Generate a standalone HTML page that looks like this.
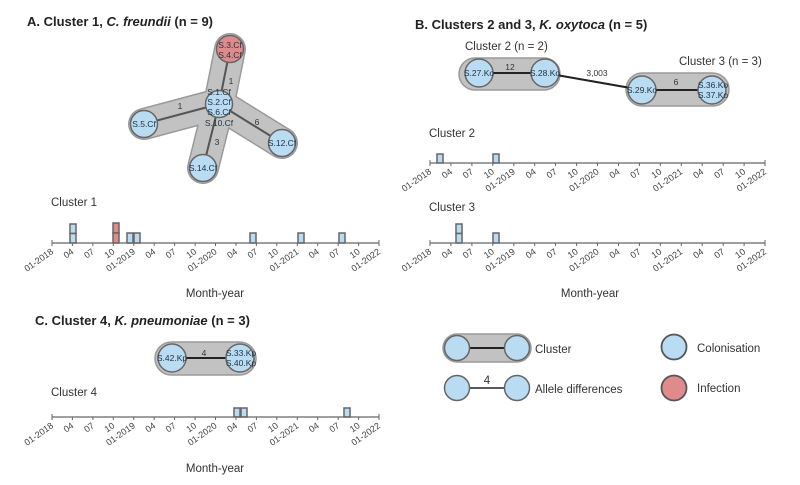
<!DOCTYPE html>
<html><head><meta charset="utf-8"><style>
body{margin:0;background:#fff}
svg{display:block;font-family:"Liberation Sans",sans-serif}
.t{font-size:9px;fill:#444}
.h{font-size:13px;font-weight:bold;fill:#222}
.l{font-size:11.5px;fill:#333}
.n{font-size:8.5px;fill:#234}
.e{font-size:8.5px;fill:#333}
.b{fill:#b9dcf3;stroke:#666;stroke-width:1.5}
.r{fill:#e08b8b;stroke:#666;stroke-width:1.5}
</style></head><body>
<svg width="800" height="485" viewBox="0 0 800 485">
<defs>
<g id="axA">
<line x1="52" y1="0" x2="379" y2="0" stroke="#666" stroke-width="1.2"/>
<g stroke="#666" stroke-width="1">
<line x1="52" y1="-3" x2="52" y2="3"/><line x1="72.4" y1="0" x2="72.4" y2="3"/><line x1="92.9" y1="0" x2="92.9" y2="3"/><line x1="113.3" y1="0" x2="113.3" y2="3"/><line x1="133.8" y1="0" x2="133.8" y2="3"/><line x1="154.2" y1="0" x2="154.2" y2="3"/><line x1="174.6" y1="0" x2="174.6" y2="3"/><line x1="195.1" y1="0" x2="195.1" y2="3"/><line x1="215.5" y1="0" x2="215.5" y2="3"/><line x1="236" y1="0" x2="236" y2="3"/><line x1="256.4" y1="0" x2="256.4" y2="3"/><line x1="276.8" y1="0" x2="276.8" y2="3"/><line x1="297.3" y1="0" x2="297.3" y2="3"/><line x1="317.7" y1="0" x2="317.7" y2="3"/><line x1="338.2" y1="0" x2="338.2" y2="3"/><line x1="358.6" y1="0" x2="358.6" y2="3"/><line x1="379" y1="-3" x2="379" y2="3"/>
</g>
<g class="t" text-anchor="end">
<text transform="translate(54,10) rotate(-35)">01-2018</text>
<text transform="translate(74.4,10) rotate(-35)">04</text>
<text transform="translate(94.9,10) rotate(-35)">07</text>
<text transform="translate(115.3,10) rotate(-35)">10</text>
<text transform="translate(135.8,10) rotate(-35)">01-2019</text>
<text transform="translate(156.2,10) rotate(-35)">04</text>
<text transform="translate(176.6,10) rotate(-35)">07</text>
<text transform="translate(197.1,10) rotate(-35)">10</text>
<text transform="translate(217.5,10) rotate(-35)">01-2020</text>
<text transform="translate(238,10) rotate(-35)">04</text>
<text transform="translate(258.4,10) rotate(-35)">07</text>
<text transform="translate(278.8,10) rotate(-35)">10</text>
<text transform="translate(299.3,10) rotate(-35)">01-2021</text>
<text transform="translate(319.7,10) rotate(-35)">04</text>
<text transform="translate(340.2,10) rotate(-35)">07</text>
<text transform="translate(360.6,10) rotate(-35)">10</text>
<text transform="translate(381,10) rotate(-35)">01-2022</text>
</g>
</g>
</defs>

<!-- Panel A -->
<text x="27" y="26" class="h">A. Cluster 1, <tspan font-style="italic">C. freundii</tspan>   (n = 9)</text>
<g stroke-linecap="round">
<g stroke="#9a9a9a" stroke-width="32">
<line x1="230" y1="49" x2="219" y2="104"/><line x1="219" y1="104" x2="144" y2="124"/><line x1="219" y1="104" x2="203" y2="168"/><line x1="219" y1="104" x2="282" y2="143"/>
</g>
<g stroke="#c2c2c2" stroke-width="29">
<line x1="230" y1="49" x2="219" y2="104"/><line x1="219" y1="104" x2="144" y2="124"/><line x1="219" y1="104" x2="203" y2="168"/><line x1="219" y1="104" x2="282" y2="143"/>
</g>
<g stroke="#555" stroke-width="2">
<line x1="230" y1="49" x2="219" y2="104"/><line x1="219" y1="104" x2="144" y2="124"/><line x1="219" y1="104" x2="203" y2="168"/><line x1="219" y1="104" x2="282" y2="143"/>
</g>
</g>
<circle cx="230" cy="49" r="13.5" class="r" stroke-width="1.2"/>
<circle cx="219" cy="104" r="13.5" class="b" stroke-width="1.2"/>
<circle cx="144" cy="124" r="13.5" class="b" stroke-width="1.2"/>
<circle cx="203" cy="168" r="13.5" class="b" stroke-width="1.2"/>
<circle cx="282" cy="143" r="13.5" class="b" stroke-width="1.2"/>
<g class="n" text-anchor="middle">
<text x="230" y="48">S.3.Cf</text><text x="230" y="58">S.4.Cf</text>
<text x="219" y="95">S.1.Cf</text><text x="219" y="105">S.2.Cf</text><text x="219" y="115">S.6.Cf</text><text x="219" y="126">S.10.Cf</text>
<text x="144" y="127">S.5.Cf</text><text x="203" y="171">S.14.Cf</text><text x="282" y="146">S.12.Cf</text>
</g>
<g class="e" text-anchor="middle"><text x="231" y="84">1</text><text x="180" y="109">1</text><text x="257" y="125">6</text><text x="217" y="145">3</text></g>
<text x="51" y="206" class="l">Cluster 1</text>
<rect x="70" y="224" width="6" height="9.5" class="b"/><rect x="70" y="233.5" width="6" height="9.5" class="b"/>
<rect x="113" y="223" width="6" height="10" class="r"/><rect x="113" y="233" width="6" height="10" class="r"/>
<rect x="127" y="233" width="6" height="10" class="b"/><rect x="134" y="233" width="6" height="10" class="b"/>
<rect x="250" y="233" width="6" height="10" class="b"/><rect x="298" y="233" width="6" height="10" class="b"/><rect x="339" y="233" width="6" height="10" class="b"/>
<use href="#axA" transform="translate(0,243)"/>
<text x="215" y="297" class="l" text-anchor="middle">Month-year</text>

<!-- Panel B -->
<text x="415" y="29" class="h">B.  Clusters 2 and 3, <tspan font-style="italic">K. oxytoca</tspan> (n = 5)</text>
<text x="465" y="50" class="l">Cluster 2 (n = 2)</text>
<text x="679" y="65" class="l">Cluster 3  (n = 3)</text>
<rect x="459" y="58" width="101" height="32" rx="16" fill="#c2c2c2" stroke="#9a9a9a" stroke-width="1.5"/>
<rect x="626" y="73" width="103" height="33" rx="16.5" fill="#c2c2c2" stroke="#9a9a9a" stroke-width="1.5"/>
<g stroke="#222" stroke-width="2"><line x1="479" y1="73" x2="545" y2="73"/><line x1="545" y1="73" x2="642" y2="90"/><line x1="642" y1="90" x2="712" y2="90"/></g>
<circle cx="479" cy="73" r="14" class="b" stroke-width="1.2"/><circle cx="545" cy="73" r="14" class="b" stroke-width="1.2"/>
<circle cx="642" cy="90" r="14" class="b" stroke-width="1.2"/><circle cx="712" cy="90" r="14" class="b" stroke-width="1.2"/>
<g class="n" text-anchor="middle"><text x="479" y="76">S.27.Ko</text><text x="545" y="76">S.28.Ko</text><text x="642" y="93">S.29.Ko</text><text x="713" y="88">S.36.Ko</text><text x="713" y="98">S.37.Ko</text></g>
<g class="e" text-anchor="middle"><text x="510" y="70">12</text><text x="597" y="76">3,003</text><text x="676" y="85">6</text></g>
<text x="429" y="137" class="l">Cluster 2</text>
<rect x="437" y="154" width="6" height="9" class="b"/><rect x="493" y="154" width="6" height="9" class="b"/>
<use href="#axA" transform="translate(430,163) scale(1.0245,1) translate(-52,0)"/>
<text x="429" y="211" class="l">Cluster 3</text>
<rect x="456" y="224" width="6" height="9.5" class="b"/><rect x="456" y="233.5" width="6" height="9.5" class="b"/>
<rect x="493" y="233" width="6" height="10" class="b"/>
<use href="#axA" transform="translate(430,243) scale(1.0245,1) translate(-52,0)"/>
<text x="590" y="297" class="l" text-anchor="middle">Month-year</text>

<!-- Panel C -->
<text x="35" y="325" class="h">C.  Cluster 4, <tspan font-style="italic">K. pneumoniae</tspan>  (n = 3)</text>
<rect x="155" y="342" width="101" height="33" rx="16.5" fill="#c2c2c2" stroke="#9a9a9a" stroke-width="1.5"/>
<line x1="172" y1="358" x2="240" y2="358" stroke="#222" stroke-width="2"/>
<circle cx="172" cy="358" r="14" class="b" stroke-width="1.2"/><circle cx="240" cy="358" r="14" class="b" stroke-width="1.2"/>
<g class="n" text-anchor="middle"><text x="172" y="361">S.42.Kp</text><text x="241" y="356">S.33.Kp</text><text x="241" y="366">S.40.Kp</text></g>
<text x="204" y="356" class="e" text-anchor="middle">4</text>
<text x="51" y="396" class="l">Cluster 4</text>
<rect x="234" y="408" width="6" height="9" class="b"/><rect x="241" y="408" width="6" height="9" class="b"/><rect x="344" y="408" width="6" height="9" class="b"/>
<use href="#axA" transform="translate(0,417)"/>
<text x="215" y="472" class="l" text-anchor="middle">Month-year</text>

<!-- Legend -->
<rect x="443" y="334" width="88" height="28" rx="14" fill="#c2c2c2" stroke="#9a9a9a" stroke-width="1.5"/>
<line x1="457" y1="348" x2="517" y2="348" stroke="#222" stroke-width="2"/>
<circle cx="457" cy="348" r="12.5" class="b"/><circle cx="517" cy="348" r="12.5" class="b"/>
<text x="535" y="353" class="l">Cluster</text>
<line x1="457" y1="388" x2="517" y2="388" stroke="#222" stroke-width="1.5"/>
<circle cx="457" cy="388" r="12.5" class="b"/><circle cx="517" cy="388" r="12.5" class="b"/>
<text x="487" y="384" class="l" text-anchor="middle">4</text>
<text x="535" y="393" class="l">Allele differences</text>
<circle cx="674" cy="347" r="12.5" fill="#b9dcf3" stroke="#555" stroke-width="1.8"/>
<text x="697" y="352" class="l">Colonisation</text>
<circle cx="674" cy="388" r="12.5" fill="#e08b8b" stroke="#555" stroke-width="1.8"/>
<text x="697" y="392" class="l">Infection</text>
</svg>
</body></html>
